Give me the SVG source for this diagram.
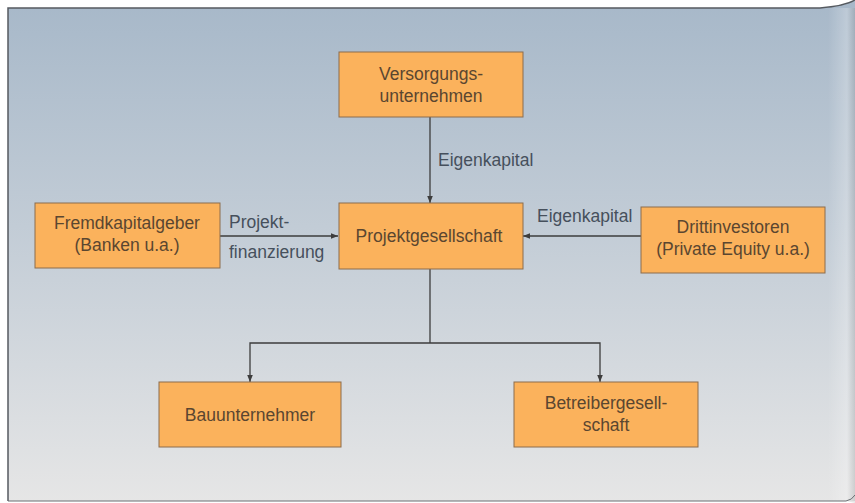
<svg xmlns="http://www.w3.org/2000/svg" width="855" height="503" viewBox="0 0 855 503">
<defs>
<linearGradient id="bg" x1="0" y1="0" x2="0" y2="1">
<stop offset="0" stop-color="#a7b8c9"/>
<stop offset="0.45" stop-color="#c2ccd6"/>
<stop offset="1" stop-color="#e6e6e6"/>
</linearGradient>
<linearGradient id="curl" x1="0" y1="0" x2="1" y2="0">
<stop offset="0" stop-color="#ffffff" stop-opacity="0"/>
<stop offset="0.7" stop-color="#ffffff" stop-opacity="0.25"/>
<stop offset="1" stop-color="#888888" stop-opacity="0.25"/>
</linearGradient>
<marker id="arr" viewBox="0 0 10 10" refX="10" refY="5" markerWidth="7" markerHeight="7" orient="auto" markerUnits="userSpaceOnUse">
<path d="M0,1 L10,5 L0,9 z" fill="#3d3d3d"/>
</marker>
<style>
.box{fill:#fbb25c;stroke:#8c6c4c;stroke-width:1}
.t{font-family:"Liberation Sans",Arial,Helvetica,sans-serif;font-size:17.5px;fill:#5a4630;text-anchor:middle}
.lbl{font-family:"Liberation Sans",Arial,Helvetica,sans-serif;font-size:17.5px;fill:#46505c}
.c{fill:none;stroke:#3d3d3d;stroke-width:1.3}
</style>
</defs>
<rect width="855" height="503" fill="#ffffff"/>
<path d="M8,8 L820,8 Q845,6 855,0 L855,503 L846,501 L8,501 z" fill="url(#bg)"/>
<rect x="828" y="8" width="27" height="493" fill="url(#curl)"/>
<path d="M8,501 L8,8 L820,8 Q845,6 855,0" fill="none" stroke="#555a60" stroke-width="1.5"/>
<path d="M8,501 L846,501 Q852,500 855,495" fill="none" stroke="#6a6e72" stroke-width="1"/>

<g id="connectors">
<line class="c" x1="430" y1="117" x2="430" y2="203" marker-end="url(#arr)"/>
<line class="c" x1="220" y1="236" x2="338" y2="236" marker-end="url(#arr)"/>
<line class="c" x1="641" y1="236" x2="523" y2="236" marker-end="url(#arr)"/>
<polyline class="c" points="430,269 430,343"/>
<polyline class="c" points="430,343 250,343 250,382" marker-end="url(#arr)"/>
<polyline class="c" points="430,343 600,343 600,382" marker-end="url(#arr)"/>
<text class="lbl" x="438" y="166">Eigenkapital</text>
<text class="lbl" x="229" y="228">Projekt-</text>
<text class="lbl" x="229" y="258">finanzierung</text>
<text class="lbl" x="537" y="222">Eigenkapital</text>
</g>

<g id="versorgung">
<rect class="box" x="339" y="52" width="184" height="65"/>
<text class="t" x="431" y="80">Versorgungs-</text>
<text class="t" x="431" y="102">unternehmen</text>
</g>
<g id="projektgesellschaft">
<rect class="box" x="339" y="203" width="184" height="66"/>
<text class="t" x="429" y="242">Projektgesellschaft</text>
</g>
<g id="fremdkapitalgeber">
<rect class="box" x="35" y="203" width="185" height="65"/>
<text class="t" x="127" y="229">Fremdkapitalgeber</text>
<text class="t" x="127" y="251">(Banken u.a.)</text>
</g>
<g id="drittinvestoren">
<rect class="box" x="641" y="207" width="184" height="66"/>
<text class="t" x="733" y="233">Drittinvestoren</text>
<text class="t" x="733" y="255">(Private Equity u.a.)</text>
</g>
<g id="bauunternehmer">
<rect class="box" x="159" y="382" width="182" height="65"/>
<text class="t" x="250" y="421">Bauunternehmer</text>
</g>
<g id="betreiber">
<rect class="box" x="514" y="382" width="184" height="65"/>
<text class="t" x="606" y="409">Betreibergesell-</text>
<text class="t" x="606" y="431">schaft</text>
</g>
</svg>
